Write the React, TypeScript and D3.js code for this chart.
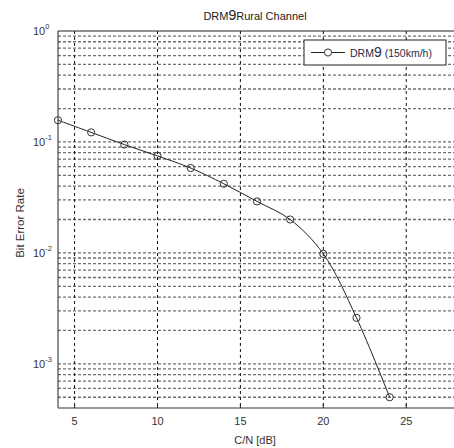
import React from "react";
import * as d3 from "d3";

const snrDb: number[] = [4, 6, 8, 10, 12, 14, 16, 18, 20, 22, 24];
const ber: number[] = [0.157, 0.122, 0.0947, 0.0748, 0.0582, 0.042, 0.0291, 0.02, 0.0098, 0.0026, 0.0005];
const xTicks: number[] = [5, 10, 15, 20, 25];
const yDecades: number[] = [0, -1, -2, -3];

const W = 454;
const H = 448;
const left = 58;
const top = 31;
const bottom = 408;
const right = 456;

export default function App() {
  const x = d3.scaleLinear().domain([4, 28]).range([left, right]);
  const y = d3.scaleLog().domain([4e-4, 1]).range([bottom, top]);

  const minor: number[] = [];
  for (let k = -4; k <= -1; k++) {
    for (let m = 1; m <= 9; m++) {
      const v = m * Math.pow(10, k);
      if (v > 4.01e-4 && v < 0.999) minor.push(v);
    }
  }

  const line = d3
    .line<number>()
    .x((_, i) => x(snrDb[i]))
    .y((d) => y(d))
    .curve(d3.curveCatmullRom.alpha(0.5));

  const font = "'Liberation Sans', Arial, sans-serif";
  const textColor = "#3a3030";

  return (
    <svg
      width={W}
      height={H}
      style={{ position: "absolute", left: 0, top: 0, background: "#fff" }}
      fontFamily={font}
    >
      <defs>
        <clipPath id="clip">
          <rect x={left} y={top} width={right - left} height={bottom - top} />
        </clipPath>
      </defs>
      {/* horizontal grid */}
      {minor.map((v, i) => (
        <line
          key={"h" + i}
          x1={left}
          x2={right}
          y1={y(v)}
          y2={y(v)}
          stroke="#707070"
          strokeWidth={1.3}
          strokeDasharray="3,2"
        />
      ))}
      {/* vertical grid */}
      {xTicks.map((t) => (
        <line
          key={"v" + t}
          x1={x(t)}
          x2={x(t)}
          y1={top}
          y2={bottom}
          stroke="#111"
          strokeWidth={1}
          strokeDasharray="3,3"
        />
      ))}
      {/* axes box */}
      <line x1={left} x2={right} y1={top} y2={top} stroke="#222" strokeWidth={1} />
      <line x1={left} x2={left} y1={top} y2={bottom} stroke="#222" strokeWidth={1} />
      <line x1={left} x2={right} y1={bottom} y2={bottom} stroke="#777" strokeWidth={1.5} />
      {xTicks.map((t) => (
        <line key={"tk" + t} x1={x(t)} x2={x(t)} y1={bottom} y2={bottom - 4} stroke="#222" />
      ))}
      {/* data */}
      <g clipPath="url(#clip)">
        <path d={line(ber) || ""} fill="none" stroke="#222" strokeWidth={1} />
      </g>
      {ber.map((v, i) => (
        <circle
          key={"p" + i}
          cx={x(snrDb[i])}
          cy={y(v)}
          r={3.6}
          fill="none"
          stroke="#333"
          strokeWidth={1}
        />
      ))}
      {/* x tick labels */}
      {xTicks.map((t) => (
        <text key={"xl" + t} x={x(t)} y={425} fontSize={11} textAnchor="middle" fill={textColor}>
          {t}
        </text>
      ))}
      {/* y tick labels */}
      {yDecades.map((k) => (
        <text key={"yl" + k} x={33} y={y(Math.pow(10, k)) + 4} fontSize={11} fill={textColor}>
          10
          <tspan dy={-6} fontSize={7.5}>
            {k}
          </tspan>
        </text>
      ))}
      {/* axis labels */}
      <text x={255} y={444} fontSize={11} textAnchor="middle" fill={textColor}>
        C/N [dB]
      </text>
      <text
        transform={`translate(24,${223}) rotate(-90)`}
        fontSize={11.5}
        textAnchor="middle"
        fill={textColor}
      >
        Bit Error Rate
      </text>
      {/* title */}
      <text x={255} y={20} fontSize={11} textAnchor="middle" fill="#222">
        DRM<tspan fontSize={14}>9</tspan>Rural Channel
      </text>
      {/* legend */}
      <rect x={304} y={40} width={142} height={25} fill="#fff" stroke="#222" strokeWidth={1} />
      <line x1={311} x2={345} y1={52.5} y2={52.5} stroke="#222" />
      <circle cx={328} cy={52.5} r={3.6} fill="#fff" stroke="#333" />
      <text x={350} y={57} fontSize={10.5} fill="#2a2a4a">
        DRM<tspan fontSize={14}>9</tspan> (150km/h)
      </text>
    </svg>
  );
}
